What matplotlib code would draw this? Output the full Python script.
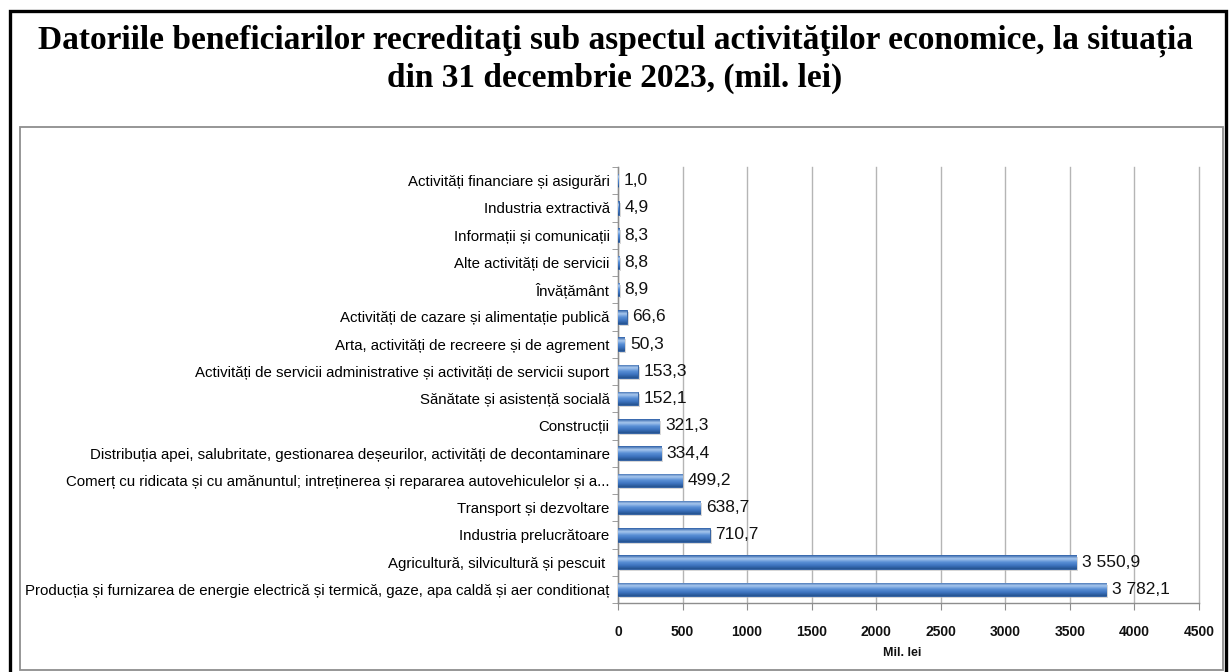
import matplotlib
matplotlib.use("Agg")
import matplotlib.pyplot as plt
import matplotlib.transforms as mtransforms
from matplotlib import font_manager
from matplotlib.colors import LinearSegmentedColormap
from matplotlib.patches import Rectangle
import numpy as np

# Data (top to bottom as in the chart)
categories = [
    "Activități financiare și asigurări",
    "Industria extractivă",
    "Informații și comunicații",
    "Alte activități de servicii",
    "Învățământ",
    "Activități de cazare și alimentație publică",
    "Arta, activități de recreere și de agrement",
    "Activități de servicii administrative și activități de servicii suport",
    "Sănătate și asistență socială",
    "Construcții",
    "Distribuția apei, salubritate, gestionarea deșeurilor, activități de decontaminare",
    "Comerț cu ridicata și cu amănuntul; intreținerea și repararea autovehiculelor și a...",
    "Transport și dezvoltare",
    "Industria prelucrătoare",
    "Agricultură, silvicultură și pescuit ",
    "Producția și furnizarea de energie electrică și termică, gaze, apa caldă și aer conditionaț",
]
values = [1.0, 4.9, 8.3, 8.8, 8.9, 66.6, 50.3, 153.3, 152.1, 321.3,
          334.4, 499.2, 638.7, 710.7, 3550.9, 3782.1]
x_ticks = [0, 500, 1000, 1500, 2000, 2500, 3000, 3500, 4000, 4500]

title = ("Datoriile beneficiarilor recreditaţi sub aspectul activităţilor economice, la situația\n"
         "din 31 decembrie 2023, (mil. lei)")

available = {f.name for f in font_manager.fontManager.ttflist}
if "Liberation Sans Narrow" in available:
    narrow = ["Liberation Sans Narrow", "DejaVu Sans"]
    cat_size, val_size, tick_size = 12.5, 14.5, 11.5
else:
    narrow = ["Liberation Sans", "DejaVu Sans"]
    cat_size, val_size, tick_size = 10.8, 12.5, 10


def fmt(v):
    s = f"{v:,.1f}".replace(",", " ").replace(".", ",")
    return s


W, H = 1230, 672
fig = plt.figure(figsize=(W / 100, H / 100), dpi=100)

# Outer black frame and inner gray chart frame
fig.patches.append(Rectangle((10 / W, -0.01), 1216 / W, 1.01 - 11 / H, transform=fig.transFigure,
                             fill=False, edgecolor="black", linewidth=2.4))
fig.patches.append(Rectangle((20 / W, 2 / H), 1203 / W, 1 - 129 / H, transform=fig.transFigure,
                             fill=False, edgecolor="#8e8e8e", linewidth=1.3))

fig.text(0.5, 1 - 59 / H, title, ha="center", va="center", fontsize=24, fontweight="bold",
         family=["Liberation Serif", "DejaVu Serif"], linespacing=1.25)

ax = fig.add_axes([618 / W, 1 - 603 / H, (1199 - 618) / W, (603 - 167) / H])

n = len(categories)
ypos = np.arange(n)
bar_h = 0.5

cmap = LinearSegmentedColormap.from_list(
    "bar", ["#2c5ea6", "#a9c8ee", "#5a90d6", "#3d73bf", "#24528f"])
grad = np.linspace(0, 1, 64).reshape(-1, 1)

shadow_tr = ax.transData + mtransforms.ScaledTranslation(2 / 100, -2 / 100, fig.dpi_scale_trans)
ax.barh(ypos, values, height=bar_h, color="#bdbdbd", alpha=0.6, zorder=2,
        transform=shadow_tr)
bars = ax.barh(ypos, values, height=bar_h, color="#3d73bf", edgecolor="#2a5a9e",
               linewidth=0.6, zorder=3)
for b, v in zip(bars, values):
    y0 = b.get_y()
    im = ax.imshow(grad, cmap=cmap, aspect="auto", zorder=4,
                   extent=(0, v, y0 + bar_h, y0), interpolation="bilinear")
    im.set_clip_path(b)
    ax.annotate(fmt(v), (v, y0 + bar_h / 2), xytext=(4, 0), textcoords="offset points",
                ha="left", va="center", fontsize=val_size, family=narrow,
                color="#111111", zorder=5)

ax.set_xlim(0, 4500)
ax.set_ylim(n - 0.5, -0.5)
ax.set_xticks(x_ticks)
ax.set_xticklabels([str(t) for t in x_ticks], fontsize=tick_size, fontweight="bold",
                   family=narrow, color="#111111")
ax.set_yticks(ypos)
ax.set_yticklabels(categories, fontsize=cat_size, family=narrow, color="#000000")
ax.set_yticks(np.arange(-0.5, n, 1), minor=True)
ax.tick_params(axis="y", which="major", length=0, pad=6)
ax.tick_params(axis="y", which="minor", length=4, color="#8e8e8e", direction="out")
ax.tick_params(axis="x", which="major", length=5, color="#8e8e8e", pad=11)

ax.grid(axis="x", color="#b5b5b5", linewidth=1, zorder=0)
for gl in ax.get_xgridlines():
    gl.set_clip_on(False)
ax.set_axisbelow(True)
for s in ["top", "right"]:
    ax.spines[s].set_visible(False)
for s in ["left", "bottom"]:
    ax.spines[s].set_color("#8e8e8e")
    ax.spines[s].set_linewidth(1)

fig.text(902 / W, 1 - 653 / H, "Mil. lei", ha="center", va="center", fontsize=9,
         fontweight="bold", family=narrow, color="#111111")

fig.savefig("out.png", dpi=100)
